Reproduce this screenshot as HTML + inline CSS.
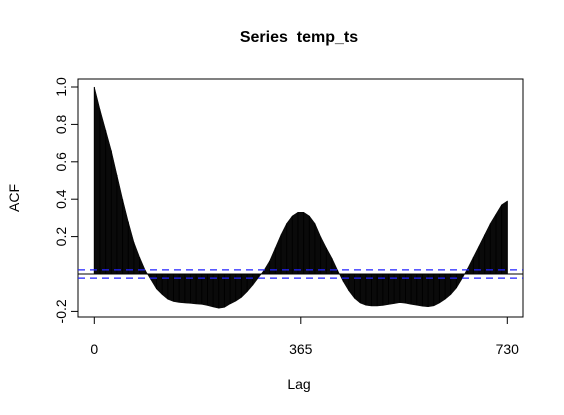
<!DOCTYPE html>
<html><head><meta charset="utf-8"><style>
body{margin:0;background:#fff;}
svg{display:block;font-family:"Liberation Sans",Arial,sans-serif;}
</style></head><body>
<svg id="chart" width="564" height="415" viewBox="0 0 564 415">
<text x="299" y="42" text-anchor="middle" font-size="16" font-weight="bold">Series&#160; temp_ts</text>
<g id="bars"></g>
<rect x="78" y="79" width="445" height="238" fill="none" stroke="#000" stroke-width="1"/>
<g id="axes"></g>
<text x="299" y="389" text-anchor="middle" font-size="14">Lag</text>
<text transform="translate(19,198) rotate(-90)" text-anchor="middle" font-size="14">ACF</text>
</svg>
<script>
const lags = [0,10,20,30,40,50,60,70,80,90,100,110,120,130,140,150,160,170,180,190,200,210,220,230,240,250,260,270,280,290,300,310,320,330,340,350,360,370,380,390,400,410,420,430,440,450,460,470,480,490,500,510,520,530,540,550,560,570,580,590,600,610,620,630,640,650,660,670,680,690,700,710,720,730];
const acfValues = [1.00,0.88,0.77,0.66,0.53,0.40,0.28,0.17,0.09,0.02,-0.03,-0.08,-0.11,-0.135,-0.147,-0.152,-0.155,-0.157,-0.16,-0.162,-0.168,-0.176,-0.183,-0.178,-0.16,-0.145,-0.125,-0.095,-0.06,-0.02,0.02,0.07,0.14,0.21,0.27,0.31,0.33,0.33,0.31,0.27,0.20,0.14,0.085,0.02,-0.04,-0.09,-0.13,-0.155,-0.167,-0.171,-0.171,-0.168,-0.163,-0.158,-0.153,-0.156,-0.162,-0.167,-0.172,-0.175,-0.17,-0.155,-0.135,-0.11,-0.075,-0.025,0.03,0.09,0.15,0.21,0.27,0.32,0.37,0.39];
const xTicks = [0,365,730];
const yTicks = [-0.2,0.2,0.4,0.6,0.8,1.0];
const ciBound = 0.022;
const NS="http://www.w3.org/2000/svg";
const X = l => 94.3 + l*(413/730);
const Y = v => 274 - v*187;
const bars=document.getElementById('bars'), axes=document.getElementById('axes');
function mk(tag,attrs,parent){const e=document.createElementNS(NS,tag);for(const k in attrs)e.setAttribute(k,attrs[k]);parent.appendChild(e);return e;}
let pts=[X(lags[0])+','+Y(0)];
lags.forEach((l,i)=>{pts.push(X(l)+','+Y(acfValues[i]));});
pts.push(X(lags[lags.length-1])+','+Y(0));
const area=mk('polygon',{points:pts.join(' '),fill:'#0a0a0a',stroke:'#0a0a0a','stroke-width':0.6},bars);


lags.forEach((l,i)=>{
  const ln=mk('line',{x1:X(l),x2:X(l),y1:Y(0),y2:Y(acfValues[i]),stroke:'#000','stroke-width':1},bars);
  
  
});
const zl=mk('line',{x1:78,x2:523,y1:Y(0),y2:Y(0),stroke:'#000'},axes);


[ciBound,-ciBound].forEach(b=>{
  const c=mk('line',{x1:78,x2:523,y1:Y(b),y2:Y(b),stroke:'#2222ff','stroke-dasharray':'7,5','stroke-width':1.3},axes);
  
  
});
xTicks.forEach(t=>{
  const tk=mk('line',{x1:X(t),x2:X(t),y1:317,y2:324,stroke:'#000'},axes);
  
  
  const tx=mk('text',{x:X(t),y:354,'text-anchor':'middle','font-size':14},axes);
  tx.textContent=t;
  
  
});
yTicks.forEach(t=>{
  const tk=mk('line',{x1:71,x2:78,y1:Y(t),y2:Y(t),stroke:'#000'},axes);
  
  
  const tx=mk('text',{transform:`translate(66,${Y(t)}) rotate(-90)`,'text-anchor':'middle','font-size':14},axes);
  tx.textContent=t.toFixed(1);
  
  
});
</script>
</body></html>
